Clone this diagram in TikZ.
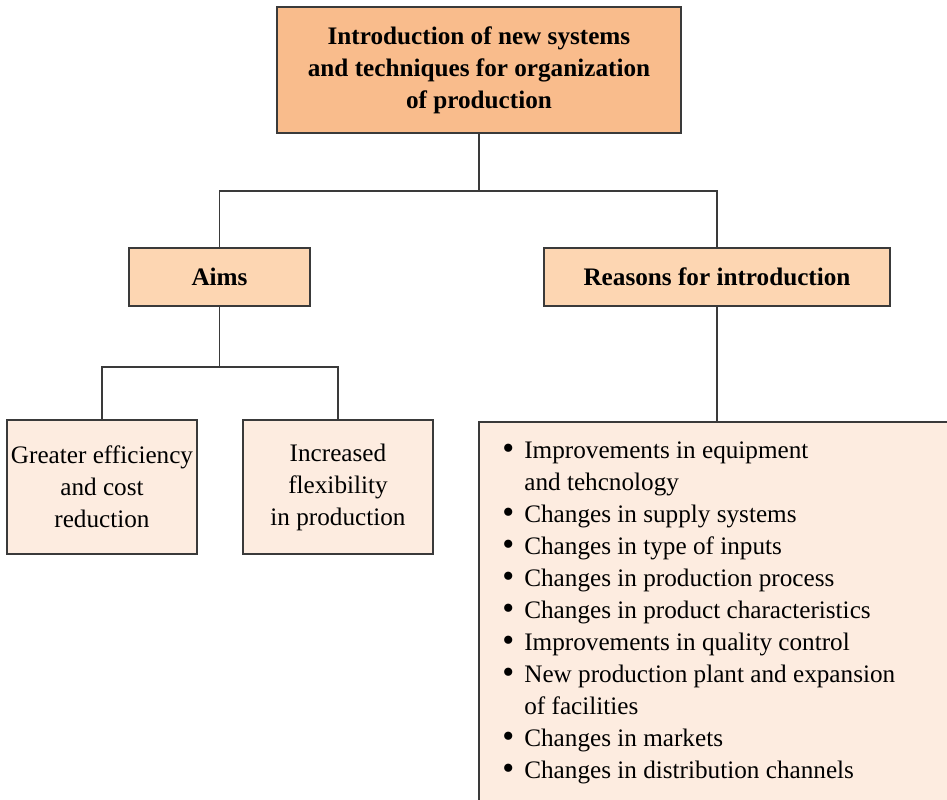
\documentclass[tikz,border=0pt]{standalone}
\usepackage{fontspec}
\setmainfont{Liberation Serif}
\definecolor{topfill}{RGB}{249,188,140}
\definecolor{midfill}{RGB}{253,214,178}
\definecolor{lowfill}{RGB}{253,236,224}
\definecolor{edge}{RGB}{58,58,58}
\newcommand{\itemdot}{\raisebox{-0.4pt}{\scalebox{1.35}{\textbullet}}}
\begin{document}
\begin{tikzpicture}[x=0.5pt,y=-0.5pt,
  box/.style={draw=edge,line width=0.75pt,align=center,inner sep=2pt,
    font=\fontsize{12.6}{16}\selectfont},
  topbox/.style={box,fill=topfill,minimum width=202pt,minimum height=63pt,
    font=\fontsize{12.6}{16}\selectfont\bfseries},
  midbox/.style={box,fill=midfill,minimum height=29pt,
    font=\fontsize{12.6}{16}\selectfont\bfseries},
  lowbox/.style={box,fill=lowfill,minimum width=95pt,minimum height=67pt},
  link/.style={draw=edge,line width=0.75pt}]
  \useasboundingbox (0,0) rectangle (947,799);
  \clip (0,0) rectangle (947,799);
  \node[topbox] (intro) at (479,70)
    {Introduction of new systems\\and techniques for organization\\of production};
  \node[midbox,minimum width=90.5pt] (aims) at (219.5,277) {Aims};
  \node[midbox,minimum width=173pt] (reasons) at (717,277) {Reasons for introduction};
  \node[lowbox] (greater) at (102,487) {Greater efficiency\\and cost\\reduction};
  \node[lowbox] (flexible) at (338,487) {Increased\\flexibility\\in production};
  \node[box,fill=lowfill,minimum width=260pt,minimum height=200pt,anchor=north west]
    (listbox) at (478,421) {};
  \node[anchor=north west,inner sep=0pt,font=\fontsize{12.6}{16}\selectfont]
    (reasonlist) at (502,436) {%
    \begin{tabular}{@{}l@{\hspace{5pt}}l@{}}
      \itemdot & Improvements in equipment\\
               & and tehcnology\\
      \itemdot & Changes in supply systems\\
      \itemdot & Changes in type of inputs\\
      \itemdot & Changes in production process\\
      \itemdot & Changes in product characteristics\\
      \itemdot & Improvements in quality control\\
      \itemdot & New production plant and expansion\\
               & of facilities\\
      \itemdot & Changes in markets\\
      \itemdot & Changes in distribution channels
    \end{tabular}};
  \draw[link] (intro.south) -- ++(0,57) coordinate (split1);
  \draw[link] (aims.north) |- (split1) -| (reasons.north);
  \draw[link] (aims.south) -- ++(0,60) coordinate (split2);
  \draw[link] (greater.north) |- (split2) -| (flexible.north);
  \draw[link] (reasons.south) -- (listbox.north -| reasons.south);
\end{tikzpicture}
\end{document}
